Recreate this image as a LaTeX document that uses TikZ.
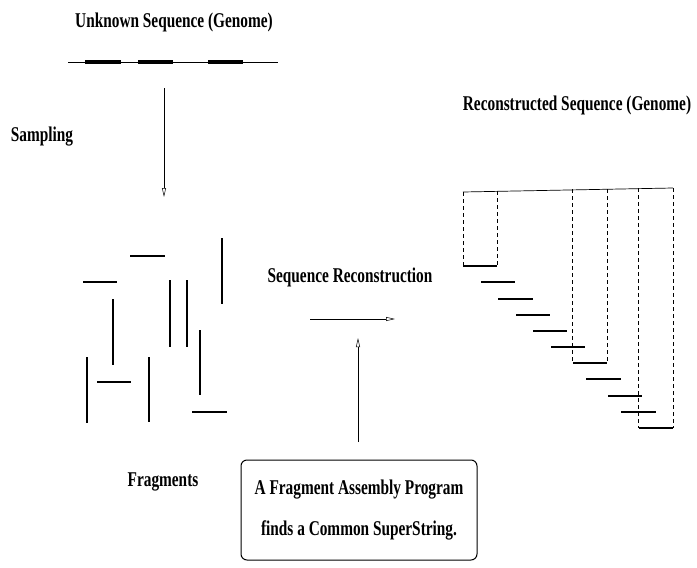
\documentclass[tikz,border=0pt]{standalone}
\usepackage{fontspec}
\setmainfont{Liberation Serif}
\usepackage{graphicx}
\usetikzlibrary{arrows.meta}
\newcommand{\narrow}[1]{\scalebox{0.73}[1]{#1}}
\tikzset{
  lbl/.style={font=\fontsize{21}{25}\selectfont\bfseries, inner sep=0pt},
  frag/.style={line width=2.6pt},
  vfrag/.style={line width=2pt},
  gap/.style={dash pattern=on 4pt off 3pt, line width=0.5pt},
  flow/.style={line width=0.5pt, -{Triangle[open,length=9pt,width=4pt]}},
}
\begin{document}
\begin{tikzpicture}[x=1pt,y=-1pt]
   \useasboundingbox (0,0) rectangle (697,568);

   % labels
   \node[lbl] (unknown) at (174,22) {\narrow{Unknown Sequence (Genome)}};
   \node[lbl] (sampling) at (42,137) {\narrow{Sampling}};
   \node[lbl] (fragments) at (163,482) {\narrow{Fragments}};
   \node[lbl] (seqrec) at (350,277) {\narrow{Sequence Reconstruction}};
   \node[lbl] (recon) at (577,105) {\narrow{Reconstructed Sequence (Genome)}};
   \node[lbl, draw, line width=1pt, rounded corners=6pt, align=center,
         minimum width=236pt, minimum height=100pt,
         font=\fontsize{21}{41}\selectfont\bfseries] (program) at (359,510)
         {\narrow{A Fragment Assembly Program}\\\narrow{finds a Common SuperString.}};

   % unknown genome
   \draw[line width=0.7pt] (68,62) -- (278,62);
   \draw[line width=3.5pt] (85,62) -- (121,62);
   \draw[line width=3.5pt] (138,62) -- (173,62);
   \draw[line width=3.5pt] (208,62) -- (243,62);

   % arrows
   \coordinate (sampTop) at (164,88);
   \coordinate (sampBot) at (164,197);
   \draw[flow] (sampTop) -- (sampBot);
   \coordinate (recFrom) at (310,319);
   \coordinate (recTo) at (395,319);
   \draw[flow] (recFrom) -- (recTo);
   \coordinate (progTop) at (358,338);
   \coordinate (progFoot) at (358,442);
   \draw[flow] (progFoot) -- (progTop);

   % fragments
   \draw[frag] (130,256) -- (165,256);
   \draw[frag] (83,282) -- (117,282);
   \draw[frag] (97,382) -- (131,382);
   \draw[frag] (192,412) -- (227,412);
   \draw[vfrag] (222,238) -- (222,304);
   \draw[vfrag] (170,280) -- (170,347);
   \draw[vfrag] (187,280) -- (187,347);
   \draw[vfrag] (113,299) -- (113,365);
   \draw[vfrag] (200,330) -- (200,395);
   \draw[vfrag] (87,357) -- (87,423);
   \draw[vfrag] (149,357) -- (149,422);

   % reconstructed genome
   \draw[line width=0.7pt] (463,192) -- (673,188);
   \draw[gap] (463,192) -- (463,266);
   \draw[gap] (497,191) -- (497,266);
   \draw[gap] (572,189) -- (572,363);
   \draw[gap] (607,189) -- (607,363);
   \draw[gap] (638,188) -- (638,428);
   \draw[gap] (673,188) -- (673,428);

   \draw[frag] (463,266) -- (497,266);
   \draw[frag] (481,282) -- (515,282);
   \draw[frag] (498,299) -- (533,299);
   \draw[frag] (516,315) -- (550,315);
   \draw[frag] (533,331) -- (567,331);
   \draw[frag] (551,347) -- (585,347);
   \draw[frag] (573,363) -- (607,363);
   \draw[frag] (586,379) -- (621,379);
   \draw[frag] (608,396) -- (642,396);
   \draw[frag] (621,412) -- (656,412);
   \draw[frag] (639,428) -- (673,428);

 \end{tikzpicture}
\end{document}
